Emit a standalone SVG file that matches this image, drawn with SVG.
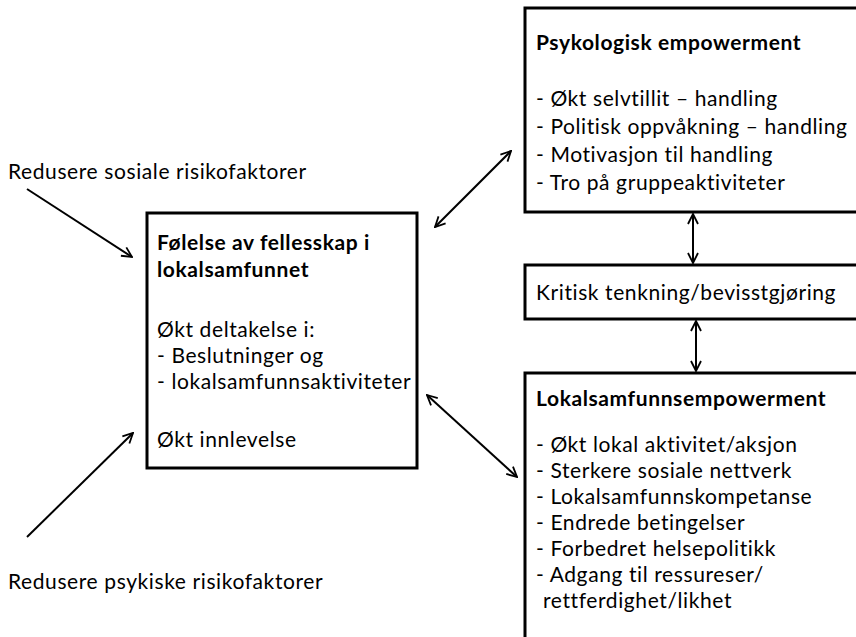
<svg xmlns="http://www.w3.org/2000/svg" width="856" height="637" viewBox="0 0 856 637">
<defs>
<marker id="ah" viewBox="0 0 12 12" refX="11" refY="6" markerWidth="12" markerHeight="12" markerUnits="userSpaceOnUse" orient="auto-start-reverse">
<path d="M1,1 L11,6 L1,11" fill="none" stroke="#000" stroke-width="1.8"/>
</marker>
<style>
.box{fill:#fff;stroke:#000;stroke-width:3}
text{font-family:Lato,"Open Sans","Liberation Sans",sans-serif;font-size:21px;letter-spacing:0.6px;fill:#000}
.b{font-weight:bold}
.c{fill:none;stroke:#000;stroke-width:2}
</style>
</defs>
<rect width="856" height="637" fill="#fff"/>
<g id="psyk">
<rect class="box" x="525" y="8" width="333" height="204"/>
<text class="b" x="536" y="50">Psykologisk empowerment</text>
<text x="536" y="106">- Økt selvtillit – handling</text>
<text x="536" y="134">- Politisk oppvåkning – handling</text>
<text x="536" y="162">- Motivasjon til handling</text>
<text x="536" y="190">- Tro på gruppeaktiviteter</text>
</g>
<g id="kritisk">
<rect class="box" x="525" y="265" width="333" height="54"/>
<text x="536" y="300">Kritisk tenkning/bevisstgjøring</text>
</g>
<g id="lokal">
<rect class="box" x="525" y="373" width="333" height="270"/>
<text class="b" x="536" y="406">Lokalsamfunnsempowerment</text>
<text x="536" y="452">- Økt lokal aktivitet/aksjon</text>
<text x="536" y="478">- Sterkere sosiale nettverk</text>
<text x="536" y="504">- Lokalsamfunnskompetanse</text>
<text x="536" y="530">- Endrede betingelser</text>
<text x="536" y="556">- Forbedret helsepolitikk</text>
<text x="536" y="582">- Adgang til ressureser/</text>
<text x="543" y="608">rettferdighet/likhet</text>
</g>
<g id="felles">
<rect class="box" x="147" y="213" width="270" height="255"/>
<text class="b" x="157" y="250">Følelse av fellesskap i</text>
<text class="b" x="157" y="277">lokalsamfunnet</text>
<text x="157" y="337">Økt deltakelse i:</text>
<text x="157" y="363">- Beslutninger og</text>
<text x="157" y="389">- lokalsamfunnsaktiviteter</text>
<text x="157" y="447">Økt innlevelse</text>
</g>
<g id="sosiale">
<text x="8" y="179">Redusere sosiale risikofaktorer</text>
</g>
<g id="psykiske">
<text x="8" y="589">Redusere psykiske risikofaktorer</text>
</g>
<g id="connectors">
<line class="c" x1="27" y1="189" x2="132" y2="257" marker-end="url(#ah)"/>
<line class="c" x1="27" y1="537" x2="133" y2="433" marker-end="url(#ah)"/>
<line class="c" x1="511" y1="151" x2="435" y2="227" marker-start="url(#ah)" marker-end="url(#ah)"/>
<line class="c" x1="427" y1="395" x2="517" y2="477" marker-start="url(#ah)" marker-end="url(#ah)"/>
<line class="c" x1="693" y1="214" x2="693" y2="263" marker-start="url(#ah)" marker-end="url(#ah)"/>
<line class="c" x1="696" y1="321" x2="696" y2="371" marker-start="url(#ah)" marker-end="url(#ah)"/>
</g>
</svg>
